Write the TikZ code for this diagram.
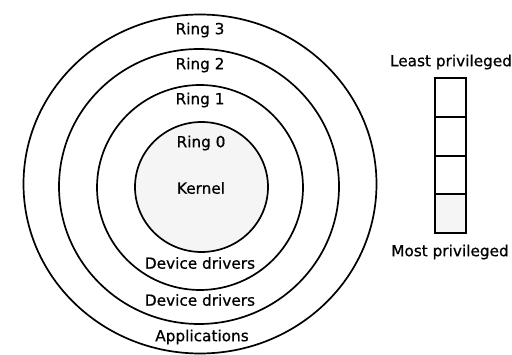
\documentclass[tikz,border=0pt]{standalone}
\usepackage{fontspec}
\setmainfont{DejaVu Sans}[BoldFont={DejaVu Sans},BoldFeatures={FakeBold=0.7}]
\begin{document}
\begin{tikzpicture}[x=1pt,y=-1pt,
  ring/.style={draw=black,line width=1.7pt},
  lbl/.style={inner sep=0pt,anchor=center,font=\fontsize{15.3}{18}\selectfont\bfseries},
  cell/.style={draw=black,line width=1.4pt}]
\useasboundingbox (0,0) rectangle (512,355);
\fill[white] (0,0) rectangle (512,355);

% protection rings, outermost first
\draw[ring] (200,184) ellipse [x radius=176.5, y radius=169.5];
\draw[ring] (199,186.5) ellipse [x radius=140, y radius=137.5];
\draw[ring] (200,187.5) ellipse [x radius=103, y radius=102.5];
\draw[ring,fill=black!4] (201.5,187) ellipse [x radius=66.5, y radius=65];

% ring labels
\node[lbl] (r3) at (200,30) {Ring 3};
\node[lbl] (r2) at (200,65) {Ring 2};
\node[lbl] (r1) at (200,100) {Ring 1};
\node[lbl] (r0) at (201,143) {Ring 0};
\node[lbl] (kern) at (201,188) {Kernel};
\node[lbl] (dd1) at (200,263) {Device drivers};
\node[lbl] (dd2) at (200,300) {Device drivers};
\node[lbl] (apps) at (202,337) {Applications};

% privilege scale
\node[lbl] (least) at (451,62) {Least privileged};
\draw[cell,fill=black!4] (435,194) rectangle (466,233);
\draw[cell] (435,78) rectangle (466,233);
\draw[line width=1.1pt] (435,117) -- (466,117);
\draw[line width=1.1pt] (435,156) -- (466,156);
\draw[line width=1.1pt] (435,194) -- (466,194);
\node[lbl] (most) at (450,252) {Most privileged};
\end{tikzpicture}
\end{document}
